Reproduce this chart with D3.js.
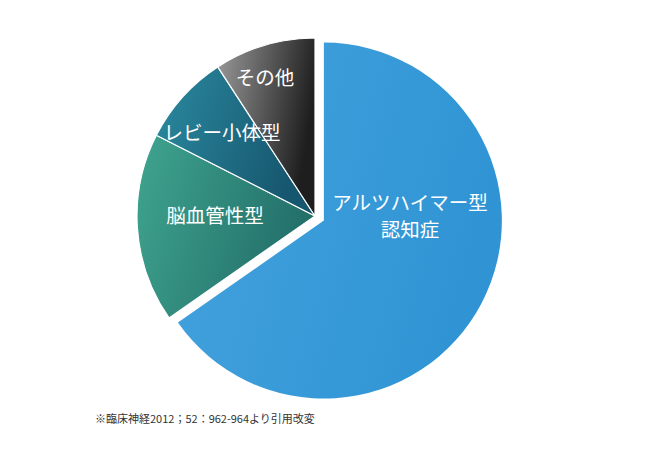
<!DOCTYPE html>
<html><head><meta charset="utf-8">
<script src="https://cdn.jsdelivr.net/npm/d3@7"></script>
<style>body{margin:0;background:#fff}</style></head>
<body><svg id="c" width="650" height="450"></svg>
<script>
const categories = ["アルツハイマー型\n認知症","脳血管性型","レビー小体型","その他"];
const values = [65.3, 17.2, 8.3, 9.2];
const colors = [["#44a3de","#3094d4"],["#3fa58f","#236f6a"],["#2b8aa0","#16566e"],["#9a9a9a","#1e1e1e"]];
const footnote = "※臨床神経2012；52：962-964より引用改変";

const svg = d3.select("#c");
const cx=315, cy=216, r=178;
const defs = svg.append("defs");
colors.forEach((c,i)=>{
  const g=defs.append("linearGradient").attr("id","g"+i).attr("x1","0").attr("y1","0").attr("x2","1").attr("y2","0.3");
  g.append("stop").attr("offset","0%").attr("stop-color",c[0]);
  g.append("stop").attr("offset","100%").attr("stop-color",c[1]);
});
const pie=d3.pie().sort(null).value(d=>d);
const arcs=pie(values);
const arc=d3.arc().innerRadius(0).outerRadius(r);
const g=svg.append("g").attr("transform",`translate(${cx},${cy})`);
const labelPos=[[95,0],[-100,0],[-93,-83],[-50,-138]];
const groups=arcs.map((a,i)=>{
  const mid=(a.startAngle+a.endAngle)/2;
  const off=i===0?10:0;
  const gg=g.append("g").attr("transform",`translate(${Math.sin(mid)*off},${-Math.cos(mid)*off})`);
  gg.append("path").attr("d",arc(a)).attr("fill",`url(#g${i})`).attr("stroke","#fff").attr("stroke-width",i===0?0:1.2);
  return gg;
});
arcs.forEach((a,i)=>{
  const lines=categories[i].split("\n");
  const t=groups[i].append("text").attr("fill","#fff").attr("font-family","Noto Sans CJK JP").attr("font-size",19.5)
    .attr("text-anchor","middle").attr("x",labelPos[i][0]).attr("y",labelPos[i][1]-(lines.length-1)*13+7);
  lines.forEach((l,j)=>t.append("tspan").attr("x",labelPos[i][0]).attr("dy",j?27:0).text(l));
});
groups.forEach(gr=>gr.select("text").raise());
g.selectAll("text").each(function(){ g.node().appendChild(this.parentNode===g.node()?this:this); });
svg.append("text").attr("x",95).attr("y",423).attr("font-family","Noto Sans CJK JP").attr("font-size",11).attr("fill","#333").text(footnote);
</script></body></html>
